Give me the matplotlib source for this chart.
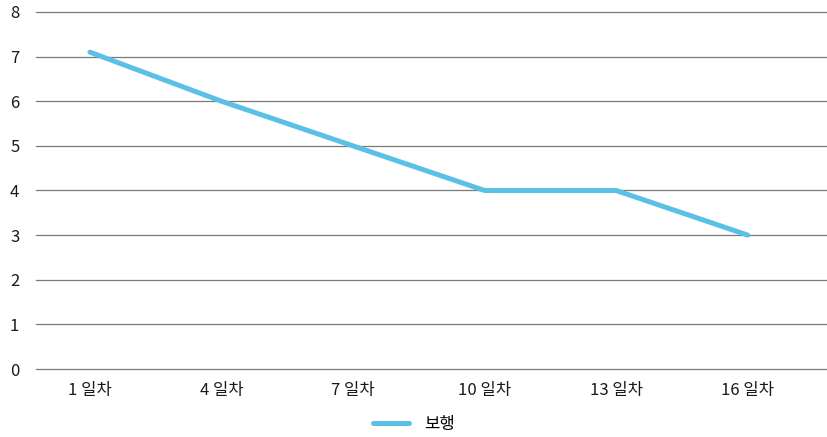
import matplotlib
matplotlib.use("Agg")
import matplotlib.pyplot as plt
from matplotlib.lines import Line2D

plt.rcParams['font.family'] = ['Noto Sans CJK KR', 'DejaVu Sans']

categories = ["1 일차", "4 일차", "7 일차", "10 일차", "13 일차", "16 일차"]
walking = [7.1, 6, 5, 4, 4, 3]
series_name = "보행"
y_ticks = [0, 1, 2, 3, 4, 5, 6, 7, 8]

W, H = 828, 437
fig = plt.figure(figsize=(W / 100, H / 100), dpi=100)
ax = fig.add_axes([36 / W, 68 / H, (828 - 36) / W, (369 - 12) / H])

x = list(range(len(categories)))
line_color = "#5BC0E6"
ax.plot(x, walking, color=line_color, lw=3.6, solid_capstyle="round",
        solid_joinstyle="round", zorder=3)

ax.set_ylim(0, 8)
ax.set_yticks(y_ticks)
ax.set_xlim(-0.41, 5.61)
ax.set_xticks(x)
ax.set_xticklabels(categories)

for t in y_ticks:
    ax.axhline(t, color="#7a7a7a", lw=0.9, zorder=1, clip_on=False)

for s in ax.spines.values():
    s.set_visible(False)
ax.tick_params(axis="both", length=0, labelsize=12, labelcolor="#1a1a1a")
ax.tick_params(axis="x", pad=9)
ax.tick_params(axis="y", pad=12)
for lbl in ax.get_yticklabels() + ax.get_xticklabels():
    lbl.set_fontweight("medium")

handle = Line2D([], [], color=line_color, lw=3.6, solid_capstyle="round")
leg = fig.legend([handle], [series_name], loc="center", bbox_to_anchor=(414 / W, 1 - 424 / H),
                 frameon=False, fontsize=12, handlelength=2.2, handletextpad=0.9)
for t in leg.get_texts():
    t.set_fontweight("medium")

fig.savefig("out.png", dpi=100)
